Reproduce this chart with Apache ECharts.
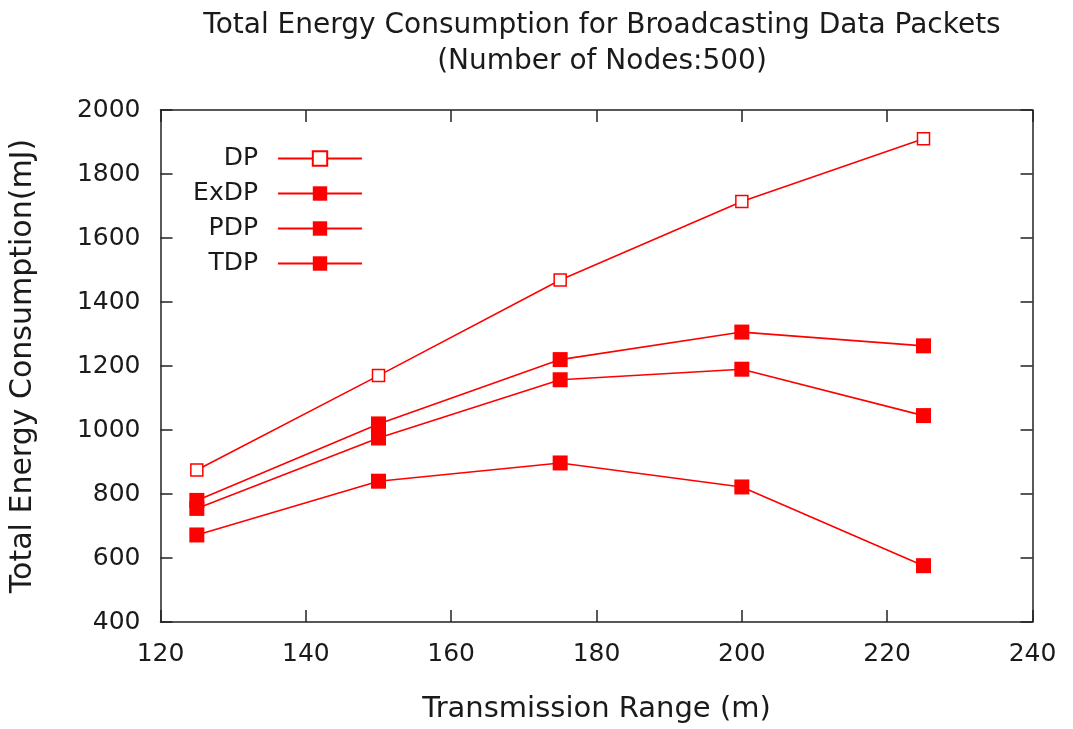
<!DOCTYPE html>
<html>
<head>
<meta charset="utf-8">
<script src="https://cdn.jsdelivr.net/npm/echarts@6/dist/echarts.min.js"></script>
<style>
html,body{margin:0;padding:0;background:#fff;}
#chart{width:1073px;height:729px;}
</style>
</head>
<body>
<div id="chart"></div>
<script>
// transmission range (m)
var ranges = [125, 150, 175, 200, 225];
var dp   = [875, 1170, 1469, 1714, 1910];
var exdp = [780, 1019, 1220, 1306, 1263];
var pdp  = [755, 975, 1157, 1190, 1045];
var tdp  = [672, 840, 897, 822, 576];

var font = 'DejaVu Sans';
var red = '#ff0000';
var ink = '#1a1a1a';

function pairs(vals){
    return ranges.map(function(x, i){ return [x, vals[i]]; });
}

function makeSeries(name, vals, hollow){
    return {
        name: name,
        type: 'line',
        data: pairs(vals),
        symbol: 'rect',
        symbolSize: hollow ? 12 : 15,
        lineStyle: {color: red, width: 1.6},
        itemStyle: hollow ? {color: '#fff', borderColor: red, borderWidth: 1.5} : {color: red, borderWidth: 0},
        emphasis: {disabled: true},
        animation: false
    };
}

var chart = echarts.init(document.getElementById('chart'));
var axisLine = {lineStyle: {color: '#222', width: 1.5}};
var axisTick = {inside: true, length: 12, lineStyle: {color: '#222', width: 1.5}};
var plain = function(v){ return String(v); };

chart.setOption({
    backgroundColor: '#fff',
    animation: false,
    title: {
        text: 'Total Energy Consumption for Broadcasting Data Packets\n(Number of Nodes:500)',
        left: 597,
        textAlign: 'center',
        top: 3,
        textStyle: {fontFamily: font, fontSize: 28, fontWeight: 'normal', color: ink, lineHeight: 36}
    },
    legend: {
        orient: 'vertical',
        left: 173,
        top: 141,
        align: 'right',
        itemGap: 10,
        itemWidth: 84,
        itemHeight: 18,
        textStyle: {fontFamily: font, fontSize: 25, color: ink, width: 80, align: 'right',
                    lineHeight: 20, padding: [0, 15, 0, 0]},
        data: ['DP', 'ExDP', 'PDP', 'TDP']
    },
    grid: {left: 160.5, right: 40.5, top: 110, bottom: 107},
    xAxis: [{
        type: 'value',
        min: 120, max: 240, interval: 20,
        name: 'Transmission Range (m)',
        nameLocation: 'middle',
        nameGap: 73,
        nameTextStyle: {fontFamily: font, fontSize: 29, color: ink},
        axisLine: axisLine, axisTick: axisTick,
        axisLabel: {fontFamily: font, fontSize: 25, color: ink, margin: 20, formatter: plain},
        splitLine: {show: false}
    }, {
        type: 'value', position: 'top',
        min: 120, max: 240, interval: 20,
        axisLine: axisLine, axisTick: axisTick,
        axisLabel: {show: false}, splitLine: {show: false}
    }],
    yAxis: [{
        type: 'value',
        min: 400, max: 2000, interval: 200,
        name: 'Total Energy Consumption(mJ)',
        nameLocation: 'middle',
        nameGap: 122,
        nameTextStyle: {fontFamily: font, fontSize: 30, color: ink},
        axisLine: axisLine, axisTick: axisTick,
        axisLabel: {fontFamily: font, fontSize: 25, color: ink, margin: 20, formatter: plain},
        splitLine: {show: false}
    }, {
        type: 'value', position: 'right',
        min: 400, max: 2000, interval: 200,
        axisLine: axisLine, axisTick: axisTick,
        axisLabel: {show: false}, splitLine: {show: false}
    }],
    series: [
        makeSeries('DP', dp, true),
        makeSeries('ExDP', exdp, false),
        makeSeries('PDP', pdp, false),
        makeSeries('TDP', tdp, false)
    ]
});
</script>
</body>
</html>
